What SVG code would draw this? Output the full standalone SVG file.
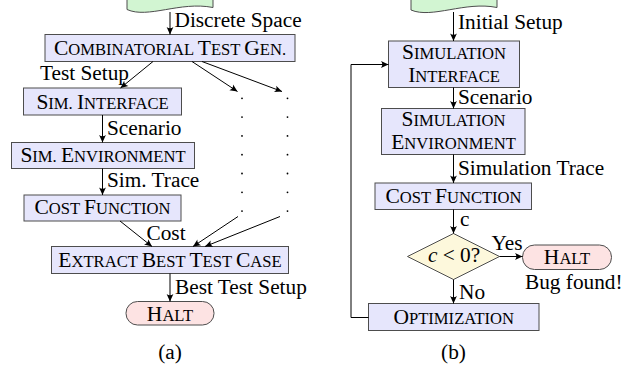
<svg xmlns="http://www.w3.org/2000/svg" width="641" height="370" viewBox="0 0 641 370">
<style>
text{font-family:"Liberation Serif","Times New Roman",serif;fill:#000}
.lb{font-size:21.3px}
.n{font-size:16.6px;text-anchor:middle}
.B{font-size:21.5px}
.box{fill:#e6e6fc;stroke:#4d4d4d;stroke-width:1}
.halt{fill:#fde3e3;stroke:#4d4d4d;stroke-width:1}
.doc{fill:#d2f5d2;stroke:#4d4d4d;stroke-width:1}
.dec{fill:#fdf8dc;stroke:#4d4d4d;stroke-width:1}
.ar{fill:none;stroke:#000;stroke-width:1;marker-end:url(#ah)}
.dot{fill:#000}
</style>
<defs>
<marker id="ah" markerUnits="userSpaceOnUse" markerWidth="12" markerHeight="12" viewBox="-9 -6 12 12" refX="0" refY="0" orient="auto">
<path d="M0,0 L-7.5,-3.4 Q-4.8,0 -7.5,3.4 Z" fill="#000"/>
</marker>
</defs>

<!-- Panel (a) -->
<g id="a-start"><path class="doc" d="M127,-2 L127,9.5 C148,19 180,1 213,7.5 L213,-2 Z"/></g>
<g id="a-ctg"><rect class="box" x="45" y="34.5" width="250" height="27"/>
<text class="n" x="170" y="54.5"><tspan class="B">C</tspan>OMBINATORIAL <tspan class="B">T</tspan>EST <tspan class="B">G</tspan>EN.</text></g>
<g id="a-simif"><rect class="box" x="23.5" y="88" width="158" height="27"/>
<text class="n" x="102.5" y="108.5"><tspan class="B">S</tspan>IM. <tspan class="B">I</tspan>NTERFACE</text></g>
<g id="a-simenv"><rect class="box" x="11.5" y="142.5" width="183" height="26"/>
<text class="n" x="103" y="161.5"><tspan class="B">S</tspan>IM. <tspan class="B">E</tspan>NVIRONMENT</text></g>
<g id="a-cost"><rect class="box" x="24" y="195" width="157" height="26"/>
<text class="n" x="102.5" y="214"><tspan class="B">C</tspan>OST <tspan class="B">F</tspan>UNCTION</text></g>
<g id="a-extract"><rect class="box" x="51.5" y="246.5" width="237" height="27"/>
<text class="n" x="170" y="267"><tspan class="B">E</tspan>XTRACT <tspan class="B">B</tspan>EST <tspan class="B">T</tspan>EST <tspan class="B">C</tspan>ASE</text></g>
<g id="a-halt"><rect class="halt" x="126" y="301.5" width="88" height="23.5" rx="11.5"/>
<text class="n" x="170" y="321"><tspan class="B">H</tspan>ALT</text></g>
<g id="a-dots">
<circle class="dot" cx="242" cy="98.3" r="0.9"/><circle class="dot" cx="242" cy="117.1" r="0.9"/><circle class="dot" cx="242" cy="135.9" r="0.9"/><circle class="dot" cx="242" cy="154.7" r="0.9"/><circle class="dot" cx="242" cy="173.5" r="0.9"/><circle class="dot" cx="242" cy="192.3" r="0.9"/><circle class="dot" cx="242" cy="211.1" r="0.9"/>
<circle class="dot" cx="287.5" cy="98.3" r="0.9"/><circle class="dot" cx="287.5" cy="117.1" r="0.9"/><circle class="dot" cx="287.5" cy="135.9" r="0.9"/><circle class="dot" cx="287.5" cy="154.7" r="0.9"/><circle class="dot" cx="287.5" cy="173.5" r="0.9"/><circle class="dot" cx="287.5" cy="192.3" r="0.9"/><circle class="dot" cx="287.5" cy="211.1" r="0.9"/>
</g>

<!-- Panel (b) -->
<g id="b-start"><path class="doc" d="M411,-2 L411,10 C432,19 465,1 497,7.5 L497,-2 Z"/></g>
<g id="b-simif"><rect class="box" x="388.5" y="41" width="131" height="46.5"/>
<text class="n" x="454" y="58.5"><tspan class="B">S</tspan>IMULATION</text>
<text class="n" x="454" y="81.5"><tspan class="B">I</tspan>NTERFACE</text></g>
<g id="b-simenv"><rect class="box" x="381.5" y="108.5" width="143.5" height="46"/>
<text class="n" x="453.5" y="126"><tspan class="B">S</tspan>IMULATION</text>
<text class="n" x="453.5" y="149"><tspan class="B">E</tspan>NVIRONMENT</text></g>
<g id="b-cost"><rect class="box" x="375" y="183" width="156.5" height="26.5"/>
<text class="n" x="453.5" y="203"><tspan class="B">C</tspan>OST <tspan class="B">F</tspan>UNCTION</text></g>
<g id="b-dec"><polygon class="dec" points="453.5,233.5 499.5,256.5 453.5,279.5 407.5,256.5"/>
<text class="lb" x="454" y="262" text-anchor="middle"><tspan font-style="italic">c</tspan> &lt; 0?</text></g>
<g id="b-halt"><rect class="halt" x="522.5" y="245" width="89" height="24.5" rx="12"/>
<text class="n" x="567" y="263.5"><tspan class="B">H</tspan>ALT</text></g>
<g id="b-opt"><rect class="box" x="368.5" y="303.5" width="170.5" height="27"/>
<text class="n" x="453.75" y="323.5"><tspan class="B">O</tspan>PTIMIZATION</text></g>

<!-- Connectors -->
<g id="connectors">
<path class="ar" d="M170,12 L170,34.5"/>
<path class="ar" d="M153,61.5 L120.5,88"/>
<path class="ar" d="M192,61.5 L237.5,91.5"/>
<path class="ar" d="M202,61.5 L282,91.5"/>
<path class="ar" d="M102.5,115 L102.5,142.5"/>
<path class="ar" d="M102.5,168.5 L102.5,195"/>
<path class="ar" d="M120,221 L152,246.5"/>
<path class="ar" d="M238,216.5 L193,246.5"/>
<path class="ar" d="M280,216.5 L205,246.5"/>
<path class="ar" d="M170,273.5 L170,301.5"/>

<path class="ar" d="M453.5,12 L453.5,41"/>
<path class="ar" d="M453.5,87.5 L453.5,108.5"/>
<path class="ar" d="M453.5,154.5 L453.5,183"/>
<path class="ar" d="M453.5,209.5 L453.5,233.5"/>
<path class="ar" d="M499.5,256.5 L522.5,256.5"/>
<path class="ar" d="M453.5,279.5 L453.5,303.5"/>
<path class="ar" d="M368.5,317.5 L351,317.5 L351,64.5 L388.5,64.5"/>
</g>

<g id="labels">
<text class="lb" x="174.5" y="27">Discrete Space</text>
<text class="lb" x="40" y="80">Test Setup</text>
<text class="lb" x="107" y="135">Scenario</text>
<text class="lb" x="107" y="187">Sim. Trace</text>
<text class="lb" x="146.5" y="240">Cost</text>
<text class="lb" x="175" y="293.5">Best Test Setup</text>
<text class="lb" x="170" y="358.5" text-anchor="middle">(a)</text>
<text class="lb" x="458" y="28.5">Initial Setup</text>
<text class="lb" x="458" y="103.5">Scenario</text>
<text class="lb" x="458" y="175">Simulation Trace</text>
<text class="lb" x="460" y="226">c</text>
<text class="lb" x="491.5" y="250">Yes</text>
<text class="lb" x="525" y="288.5">Bug found!</text>
<text class="lb" x="459" y="298.5">No</text>
<text class="lb" x="453.5" y="358.5" text-anchor="middle">(b)</text>
</g>
</svg>
